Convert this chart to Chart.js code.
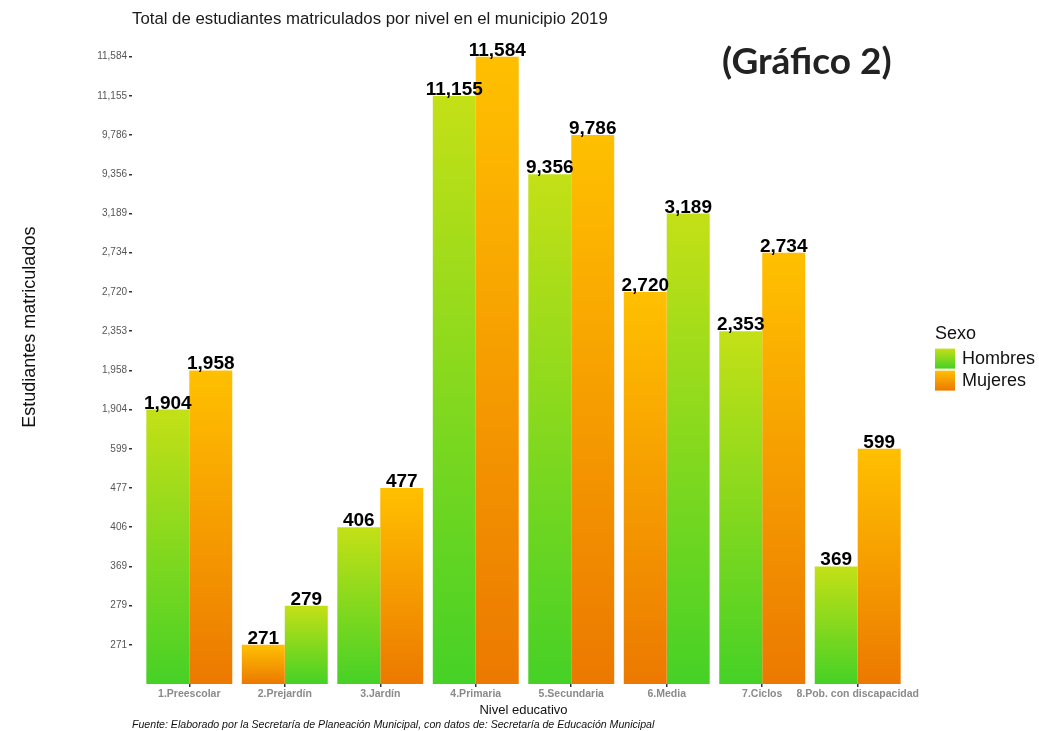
<!DOCTYPE html>
<html>
<head>
<meta charset="utf-8">
<script src="https://cdn.jsdelivr.net/npm/chart.js@4.4.1/dist/chart.umd.min.js"></script>
<style>
  html, body { margin: 0; padding: 0; background: #fff; }
  #wrap { width: 1039px; height: 731px; position: relative; }
</style>
</head>
<body>
<div id="wrap"><canvas id="chart"></canvas></div>
<script>
  // niveles educativos (eje x)
  var niveles = ['1.Preescolar', '2.Prejardín', '3.Jardín', '4.Primaria', '5.Secundaria', '6.Media', '7.Ciclos', '8.Pob. con discapacidad'];
  var hombres = [1904, 279, 406, 11155, 9356, 3189, 2353, 369];
  var mujeres = [1958, 271, 477, 11584, 9786, 2720, 2734, 599];
  // el eje y es discreto: cada valor es un nivel del factor
  var yTicks = [271, 279, 369, 406, 477, 599, 1904, 1958, 2353, 2720, 2734, 3189, 9356, 9786, 11155, 11584];

  var fills = {
    H: ['#c4e016', '#46d126'],
    M: ['#ffc000', '#ec7900']
  };

  function fmt(v) { return v.toLocaleString('en-US'); }
  function rank(v) { return yTicks.indexOf(v) + 1; }

  // ggplot ordena las barras esquivadas por el nivel del factor: la menor a la izquierda
  var left = { values: [], sexes: [] }, right = { values: [], sexes: [] };
  niveles.forEach(function (n, i) {
    if (hombres[i] <= mujeres[i]) {
      left.values.push(hombres[i]); left.sexes.push('H');
      right.values.push(mujeres[i]); right.sexes.push('M');
    } else {
      left.values.push(mujeres[i]); left.sexes.push('M');
      right.values.push(hombres[i]); right.sexes.push('H');
    }
  });

  function barFill(ctx) {
    var chart = ctx.chart, ds = ctx.dataset;
    if (ctx.dataIndex === undefined || !chart.scales.y || !ctx.parsed) return '#999';
    var c = fills[ds.sexes[ctx.dataIndex]];
    var y = chart.scales.y;
    var top = y.getPixelForValue(ctx.parsed.y), bottom = y.getPixelForValue(0);
    if (!isFinite(top) || !isFinite(bottom) || top === bottom) return c[1];
    var g = chart.ctx.createLinearGradient(0, top, 0, bottom);
    g.addColorStop(0, c[0]);
    g.addColorStop(1, c[1]);
    return g;
  }

  var valueLabels = {
    id: 'valueLabels',
    afterDatasetsDraw: function (chart) {
      var ctx = chart.ctx;
      ctx.save();
      ctx.font = 'bold 19px "Liberation Sans", Arial, sans-serif';
      ctx.fillStyle = '#000';
      ctx.textAlign = 'center';
      ctx.textBaseline = 'alphabetic';
      chart.data.datasets.forEach(function (ds, di) {
        chart.getDatasetMeta(di).data.forEach(function (bar, i) {
          ctx.fillText(fmt(ds.values[i]), bar.x, bar.y - 1);
        });
      });
      ctx.restore();
    }
  };

  var extras = {
    id: 'extras',
    afterDraw: function (chart) {
      var ctx = chart.ctx, a = chart.chartArea;
      ctx.save();
      // etiqueta del gráfico
      ctx.fillStyle = '#222';
      ctx.font = 'bold 37px Lato, "Open Sans", sans-serif';
      ctx.textAlign = 'left';
      ctx.textBaseline = 'middle';
      ctx.fillText('(Gráfico 2)', a.right - 193, a.top + 29);

      // título del eje y (ggplot lo deja algo más arriba del centro)
      ctx.save();
      ctx.translate(30, a.top + 294);
      ctx.rotate(-Math.PI / 2);
      ctx.textAlign = 'center';
      ctx.fillStyle = '#111';
      ctx.font = '18px "Liberation Sans", Arial, sans-serif';
      ctx.fillText('Estudiantes matriculados', 0, 0);
      ctx.restore();

      // leyenda
      var x0 = a.right + 20, cy = (a.top + a.bottom) / 2;
      ctx.font = '18px "Liberation Sans", Arial, sans-serif';
      ctx.fillStyle = '#111';
      ctx.fillText('Sexo', x0, cy - 25);
      [['Hombres', 'H'], ['Mujeres', 'M']].forEach(function (it, k) {
        var top = cy - 10 + k * 22;
        var g = ctx.createLinearGradient(0, top, 0, top + 20);
        g.addColorStop(0, fills[it[1]][0]);
        g.addColorStop(1, fills[it[1]][1]);
        ctx.fillStyle = g;
        ctx.fillRect(x0, top, 20, 20);
        ctx.fillStyle = '#111';
        ctx.fillText(it[0], x0 + 27, top + 10);
      });
      ctx.restore();
    }
  };

  new Chart(document.getElementById('chart'), {
    type: 'bar',
    data: {
      labels: niveles,
      datasets: [
        { label: 'izq', data: left.values.map(rank), values: left.values, sexes: left.sexes, backgroundColor: barFill },
        { label: 'der', data: right.values.map(rank), values: right.values, sexes: right.sexes, backgroundColor: barFill }
      ]
    },
    plugins: [valueLabels, extras],
    options: {
      responsive: true,
      maintainAspectRatio: false,
      animation: false,
      layout: { padding: { left: 0, right: 124, top: 0, bottom: 0 } },
      datasets: { bar: { categoryPercentage: 0.9, barPercentage: 1.0, borderWidth: 0 } },
      plugins: {
        legend: { display: false },
        tooltip: { enabled: false },
        title: {
          display: true,
          text: 'Total de estudiantes matriculados por nivel en el municipio 2019',
          align: 'start',
          fullSize: false,
          color: '#1a1a1a',
          font: { family: '"Liberation Sans", Arial, sans-serif', size: 16.8, weight: 'normal' },
          padding: { top: 9, bottom: 4 }
        },
        subtitle: {
          display: true,
          position: 'bottom',
          text: 'Fuente: Elaborado por la Secretaría de Planeación Municipal, con datos de: Secretaría de Educación Municipal',
          align: 'start',
          fullSize: false,
          color: '#111',
          font: { family: '"Liberation Sans", Arial, sans-serif', size: 10.6, style: 'italic' },
          padding: { top: 0, bottom: 0 }
        }
      },
      scales: {
        x: {
          grid: { display: true, drawOnChartArea: false, drawTicks: true, tickLength: 3, lineWidth: 1.5, color: '#333', offset: false },
          border: { display: false },
          ticks: {
            color: '#8a8a8a',
            padding: 1,
            maxRotation: 0,
            autoSkip: false,
            font: { family: '"Liberation Sans", Arial, sans-serif', size: 10.5, weight: 'bold' }
          },
          title: {
            display: true,
            text: 'Nivel educativo',
            color: '#111',
            font: { family: '"Liberation Sans", Arial, sans-serif', size: 13 },
            padding: { top: 1, bottom: 0 }
          },
          // expansión discreta de ggplot: 0.6 de categoría a cada lado
          afterBuildTicks: function (scale) {
            scale._startValue = scale.min - 0.6;
            scale._valueRange = scale.max - scale.min + 1.2;
          }
        },
        y: {
          min: 0,
          max: 16.6,
          grid: { display: true, drawOnChartArea: false, drawTicks: true, tickLength: 3, lineWidth: 1.5, color: '#333' },
          border: { display: false },
          afterBuildTicks: function (scale) {
            scale.ticks = yTicks.map(function (v, i) { return { value: i + 1 }; });
          },
          afterFit: function (scale) { scale.width = 132; },
          ticks: {
            color: '#555',
            padding: 2,
            font: { family: '"Liberation Sans", Arial, sans-serif', size: 10 },
            callback: function (v) {
              var t = yTicks[v - 1];
              return t === undefined ? '' : fmt(t);
            }
          }
        }
      }
    }
  });
</script>
</body>
</html>
